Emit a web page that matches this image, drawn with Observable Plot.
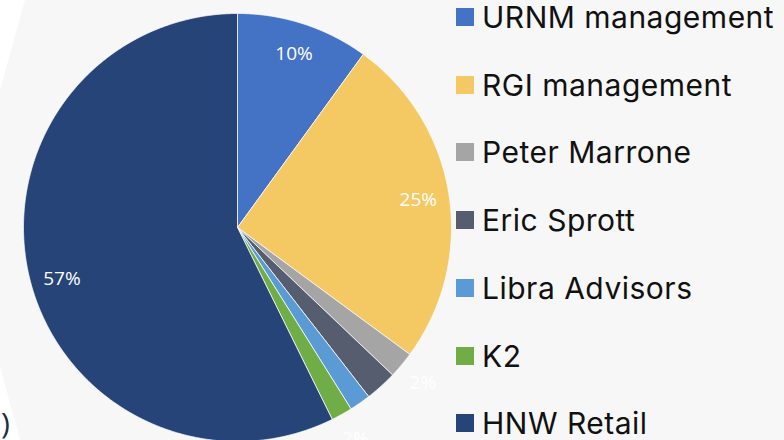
<!DOCTYPE html>
<html>
<head>
<meta charset="utf-8">
<script src="https://cdn.jsdelivr.net/npm/d3@7"></script>
<script src="https://cdn.jsdelivr.net/npm/@observablehq/plot@0.6"></script>
<style>
  html, body { margin: 0; padding: 0; }
  body { width: 784px; height: 440px; overflow: hidden; position: relative; background: #ffffff; }
  #bg { position: absolute; left: 0; top: 0; width: 784px; height: 440px; background: #f7f7f7;
        clip-path: polygon(25px 0, 784px 0, 784px 440px, 20px 440px, 0 367px, 0 90px); }
  #chart { position: absolute; left: 0; top: 0; }
  #legend { position: absolute; left: 0; top: 0; font-family: Inter, sans-serif; color: #111; }
  .item { position: absolute; left: 456px; display: flex; align-items: center; white-space: nowrap; }
  .sw { width: 18px; height: 18px; margin-right: 8px; flex: none; }
  .lab { font-size: 30px; line-height: 34px; letter-spacing: 0.5px; }
  #paren { position: absolute; left: 1px; top: 403px; font-family: "Open Sans", sans-serif; font-size: 30px; line-height: 40px; color: #1c2a4a; }
</style>
</head>
<body>
<div id="bg"></div>
<div id="chart"></div>
<div id="legend"></div>
<div id="paren">)</div>
<script>
const categories = ["URNM management", "RGI management", "Peter Marrone", "Eric Sprott", "Libra Advisors", "K2", "HNW Retail"];
const shares = [10, 25.1, 2, 2.4, 1.6, 1.6, 57.3];
const colors = ["#4472C4", "#F4C862", "#A5A5A5", "#555D6E", "#5B9BD5", "#70AD47", "#264478"];
const labelled = ["URNM management", "RGI management", "Peter Marrone", "K2", "HNW Retail"];
const outsideLabels = ["Peter Marrone", "K2"];

const rows = categories.map((name, i) => ({name, share: shares[i]}));
const arcs = d3.pie().sort(null).value(d => d.share)(rows);

// polygon points for each slice, in unit-circle data coordinates
const pts = [];
for (const a of arcs) {
  const name = a.data.name;
  pts.push({name, x: 0, y: 0});
  const n = Math.max(2, Math.ceil((a.endAngle - a.startAngle) / 0.004));
  for (let k = 0; k <= n; k++) {
    const t = a.startAngle + (a.endAngle - a.startAngle) * k / n;
    pts.push({name, x: Math.sin(t), y: Math.cos(t)});
  }
  pts.push({name, x: 0, y: 0});
}

const labels = arcs.filter(a => labelled.includes(a.data.name)).map(a => {
  const m = (a.startAngle + a.endAngle) / 2;
  const big = a.data.share > 50;
  const r = outsideLabels.includes(a.data.name) ? 1.13 : 0.855;
  const mm = big ? m - 0.055 : m;
  return {name: a.data.name, x: r * Math.sin(mm), y: r * Math.cos(mm), text: Math.round(a.data.share) + "%"};
});

const chart = Plot.plot({
  width: 784,
  height: 440,
  style: {background: "transparent", overflow: "visible"},
  x: {domain: [-1, 1], range: [23, 451], axis: null},
  y: {domain: [-1, 1], range: [441, 13], axis: null},
  color: {domain: categories, range: colors},
  marks: [
    Plot.line(pts, {x: "x", y: "y", z: "name", fill: "name", stroke: "white", strokeWidth: 0.75, curve: "linear", strokeLinejoin: "miter"}),
    Plot.text(labels, {x: "x", y: "y", text: "text", fill: "white", fontSize: 19, fontFamily: "Open Sans, sans-serif"})
  ]
});
document.getElementById("chart").appendChild(chart);

const legend = document.getElementById("legend");
categories.forEach((name, i) => {
  const item = document.createElement("div");
  item.className = "item";
  const cy = 17 + i * 67.7;
  item.style.top = (cy - 17) + "px";
  item.style.height = "34px";
  const sw = document.createElement("span");
  sw.className = "sw";
  sw.style.background = colors[i];
  const lab = document.createElement("span");
  lab.className = "lab";
  lab.textContent = name;
  item.appendChild(sw);
  item.appendChild(lab);
  legend.appendChild(item);
});
</script>
</body>
</html>
